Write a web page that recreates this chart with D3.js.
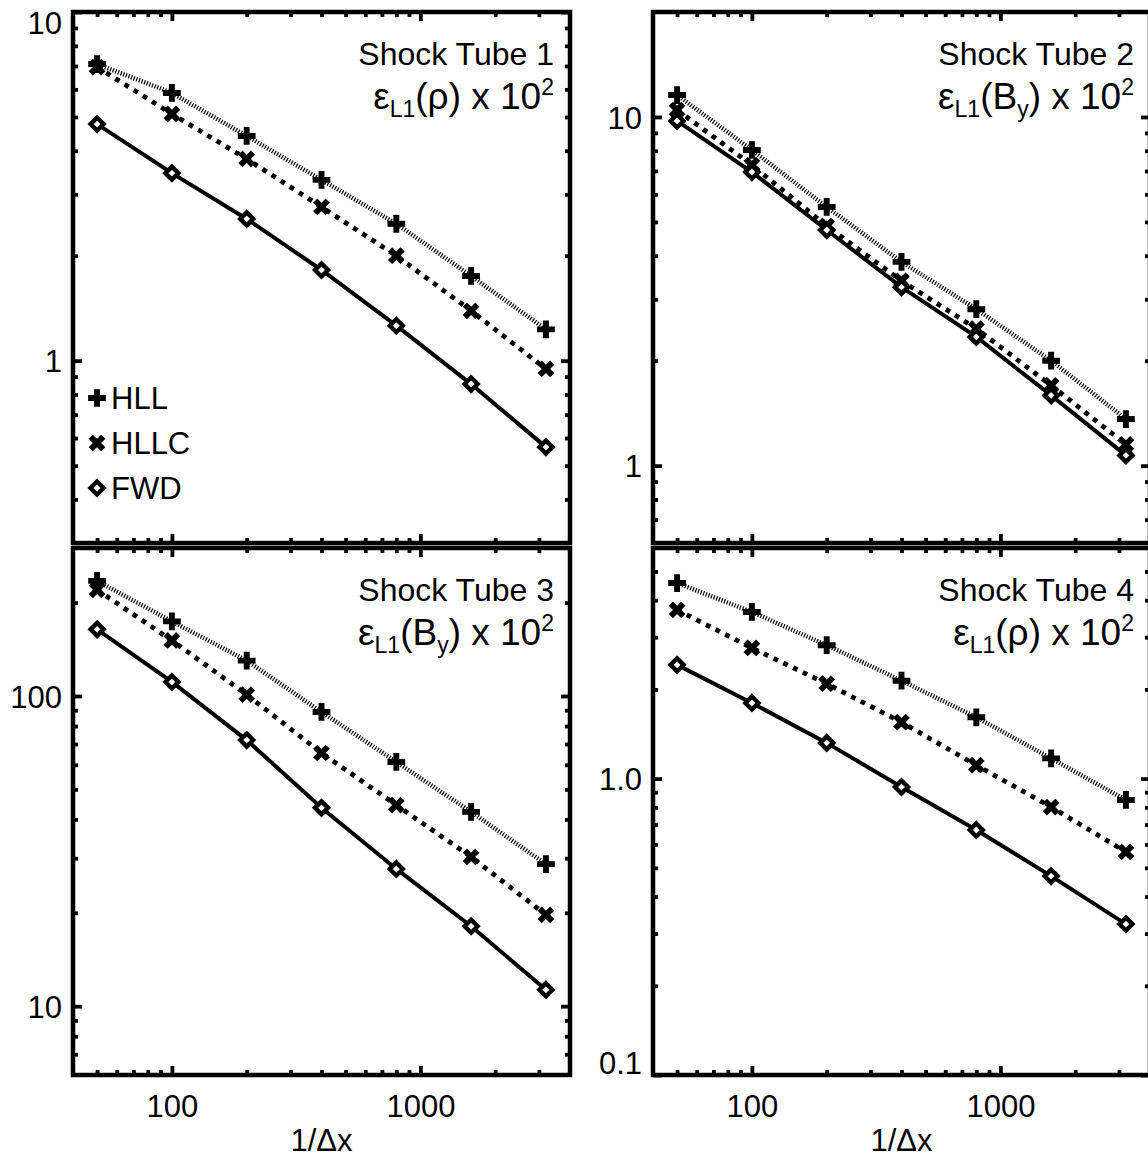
<!DOCTYPE html>
<html><head><meta charset="utf-8">
<script src="https://cdn.jsdelivr.net/npm/d3@7"></script>
<style>body{margin:0;background:#fff}svg{display:block}text{font-family:"Liberation Sans",Arial,Helvetica,sans-serif}</style>
</head><body>
<svg id="c" width="1148" height="1160"></svg>
<script>
// ---------- data ----------
const resolution = [50, 100, 200, 400, 800, 1600, 3200];
const xTickValues = [100, 1000];
const xTickLabels = ["100", "1000"];
const xMinorTicks = [50, 60, 70, 80, 90, 200, 300, 400, 500, 600, 700, 800, 900, 2000, 3000];
const xDomain = [40, 4000];
const xTitle = "1/\u0394x";

const seriesNames = ["HLL", "HLLC", "FWD"];

const st1HLL  = [7.09, 5.86, 4.41, 3.30, 2.47, 1.75, 1.23];
const st1HLLC = [6.95, 5.10, 3.79, 2.76, 2.00, 1.39, 0.947];
const st1FWD  = [4.77, 3.45, 2.55, 1.82, 1.26, 0.857, 0.565];

const st2HLL  = [11.56, 8.04, 5.52, 3.84, 2.81, 2.00, 1.36];
const st2HLLC = [10.47, 7.28, 4.87, 3.39, 2.47, 1.70, 1.15];
const st2FWD  = [9.74, 6.95, 4.74, 3.25, 2.34, 1.59, 1.07];

const st3HLL  = [235, 174, 130, 88.8, 61.3, 42.3, 28.7];
const st3HLLC = [220, 151, 101, 65.5, 44.5, 30.3, 19.7];
const st3FWD  = [164, 111, 72.1, 43.6, 27.7, 18.1, 11.3];

const st4HLL  = [4.57, 3.65, 2.82, 2.14, 1.61, 1.17, 0.847];
const st4HLLC = [3.71, 2.76, 2.09, 1.55, 1.11, 0.802, 0.566];
const st4FWD  = [2.42, 1.80, 1.32, 0.937, 0.671, 0.469, 0.323];

const panelTitles = ["Shock Tube 1", "Shock Tube 2", "Shock Tube 3", "Shock Tube 4"];
const panelQuantity = ["\u03C1", "B", "B", "\u03C1"];
const panelQuantitySub = ["", "y", "y", ""];
const yDomains = [[0.3, 10], [0.6, 20], [6, 300], [0.1, 6]];
const yTickValues = [[1, 10], [1, 10], [10, 100], [0.1, 1]];
const yTickLabels = [["1", "10"], ["1", "10"], ["10", "100"], ["0.1", "1.0"]];

// ---------- layout ----------
const boxes = [
  {x0: 73, x1: 570, y0: 12, y1: 543},
  {x0: 653, x1: 1150, y0: 12, y1: 543},
  {x0: 73, x1: 570, y0: 548, y1: 1075},
  {x0: 653, x1: 1150, y0: 548, y1: 1075}
];
const allSeries = [
  [st1HLL, st1HLLC, st1FWD],
  [st2HLL, st2HLLC, st2FWD],
  [st3HLL, st3HLLC, st3FWD],
  [st4HLL, st4HLLC, st4FWD]
];

const svg = d3.select("#c");
svg.append("rect").attr("width", 1148).attr("height", 1160).attr("fill", "#fff");

const lineStyles = [
  {w: 4.5, dash: "1.2,1.6"},
  {w: 4.8, dash: "4.8,6"},
  {w: 4, dash: null}
];

const crossPath = d3.symbol().type(d3.symbolCross).size(175)();
function drawMarker(g, kind, cx, cy) {
  if (kind === 0) {
    g.append("path").attr("d", crossPath).attr("transform", `translate(${cx},${cy})`).attr("fill", "#000");
  } else if (kind === 1) {
    g.append("path").attr("d", crossPath).attr("transform", `translate(${cx},${cy}) rotate(45)`).attr("fill", "#000");
  } else {
    const r = 6.5;
    g.append("path").attr("d", `M${cx},${cy - r}L${cx + r},${cy}L${cx},${cy + r}L${cx - r},${cy}Z`)
      .attr("fill", "#fff").attr("stroke", "#000").attr("stroke-width", 4.4).attr("stroke-linejoin", "miter");
  }
}

function minorY(dom, majors) {
  const out = [];
  const lo = Math.floor(Math.log10(dom[0])), hi = Math.ceil(Math.log10(dom[1]));
  for (let e = lo; e <= hi; e++) {
    for (let m = 1; m <= 9; m++) {
      const v = +(m * Math.pow(10, e)).toPrecision(6);
      if (v > dom[0] * 1.0001 && v < dom[1] * 0.9999 && !majors.some(t => Math.abs(t - v) < 1e-9)) out.push(v);
    }
  }
  return out;
}

function styleAxis(sel, w) {
  sel.select(".domain").remove();
  sel.selectAll(".tick line").attr("stroke", "#000").attr("stroke-width", w);
  sel.selectAll(".tick text").attr("font-family", null).attr("font-size", 31).attr("fill", "#000");
}

boxes.forEach((b, pi) => {
  const g = svg.append("g");
  const x = d3.scaleLog().domain(xDomain).range([b.x0, b.x1]);
  const y = d3.scaleLog().domain(yDomains[pi]).range([b.y1, b.y0]);
  const yMin = minorY(yDomains[pi], yTickValues[pi]);
  const showX = pi >= 2;

  // bottom
  const ab = g.append("g").attr("transform", `translate(0,${b.y1})`)
    .call(d3.axisBottom(x).tickValues(xTickValues).tickSize(-9).tickPadding(20)
      .tickFormat((d, i) => showX ? xTickLabels[i] : ""));
  styleAxis(ab, 3.8);
  const abm = g.append("g").attr("transform", `translate(0,${b.y1})`)
    .call(d3.axisBottom(x).tickValues(xMinorTicks).tickSize(-5).tickFormat(""));
  styleAxis(abm, 3.8);
  // top
  const at = g.append("g").attr("transform", `translate(0,${b.y0})`)
    .call(d3.axisTop(x).tickValues(xTickValues).tickSize(-9).tickFormat(""));
  styleAxis(at, 3.8);
  const atm = g.append("g").attr("transform", `translate(0,${b.y0})`)
    .call(d3.axisTop(x).tickValues(xMinorTicks).tickSize(-5).tickFormat(""));
  styleAxis(atm, 3.8);
  // left
  const al = g.append("g").attr("transform", `translate(${b.x0},0)`)
    .call(d3.axisLeft(y).tickValues(yTickValues[pi]).tickSize(-9).tickPadding(11)
      .tickFormat((d, i) => yTickLabels[pi][i]));
  styleAxis(al, 3.8);
  al.selectAll(".tick text").attr("dy", d => {
    const py = y(d);
    if (Math.abs(py - b.y0) < 3) return "0.68em";
    if (Math.abs(py - b.y1) < 3) return "-0.05em";
    return "0.36em";
  });
  const alm = g.append("g").attr("transform", `translate(${b.x0},0)`)
    .call(d3.axisLeft(y).tickValues(yMin).tickSize(-5).tickFormat(""));
  styleAxis(alm, 3.8);
  // right
  const ar = g.append("g").attr("transform", `translate(${b.x1},0)`)
    .call(d3.axisRight(y).tickValues(yTickValues[pi]).tickSize(-9).tickFormat(""));
  styleAxis(ar, 3.8);
  const arm = g.append("g").attr("transform", `translate(${b.x1},0)`)
    .call(d3.axisRight(y).tickValues(yMin).tickSize(-5).tickFormat(""));
  styleAxis(arm, 3.8);

  // frame
  g.append("rect").attr("x", b.x0).attr("y", b.y0).attr("width", b.x1 - b.x0).attr("height", b.y1 - b.y0)
    .attr("fill", "none").attr("stroke", "#000").attr("stroke-width", 4.5);

  // series
  const line = d3.line().x((d, i) => x(resolution[i])).y(d => y(d));
  allSeries[pi].forEach((vals, si) => {
    const st = lineStyles[si];
    const p = g.append("path").attr("d", line(vals)).attr("fill", "none").attr("stroke", "#000")
      .attr("stroke-width", st.w).attr("stroke-linecap", "butt");
    if (st.dash) p.attr("stroke-dasharray", st.dash);
  });
  allSeries[pi].forEach((vals, si) => {
    vals.forEach((v, i) => drawMarker(g, si, x(resolution[i]), y(v)));
  });

  // titles
  const tx = b.x1 - 16;
  g.append("text").attr("x", tx).attr("y", b.y0 + 53).attr("text-anchor", "end")
    .attr("font-size", 32).text(panelTitles[pi]);
  const t2 = g.append("text").attr("x", tx).attr("y", b.y0 + 97).attr("text-anchor", "end")
    .attr("font-size", 37);
  t2.append("tspan").text("\u03B5");
  t2.append("tspan").attr("font-size", 23).attr("dy", 8).text("L1");
  t2.append("tspan").attr("dy", -8).text("(" + panelQuantity[pi]);
  if (panelQuantitySub[pi]) {
    t2.append("tspan").attr("font-size", 23).attr("dy", 8).text(panelQuantitySub[pi]);
    t2.append("tspan").attr("dy", -8).text(") x 10");
  } else {
    t2.append("tspan").text(") x 10");
  }
  t2.append("tspan").attr("font-size", 23).attr("dy", -14).text("2");

  if (showX) {
    g.append("text").attr("x", (b.x0 + b.x1) / 2).attr("y", 1151).attr("text-anchor", "middle")
      .attr("font-size", 31).text(xTitle);
  }
});

// legend (panel 1)
const lg = svg.append("g");
const legendY = [398, 443, 488];
seriesNames.forEach((name, i) => {
  drawMarker(lg, i, 97, legendY[i]);
  lg.append("text").attr("x", 111).attr("y", legendY[i] + 11)
    .attr("font-size", 31).text(name);
});
</script>
</body></html>
